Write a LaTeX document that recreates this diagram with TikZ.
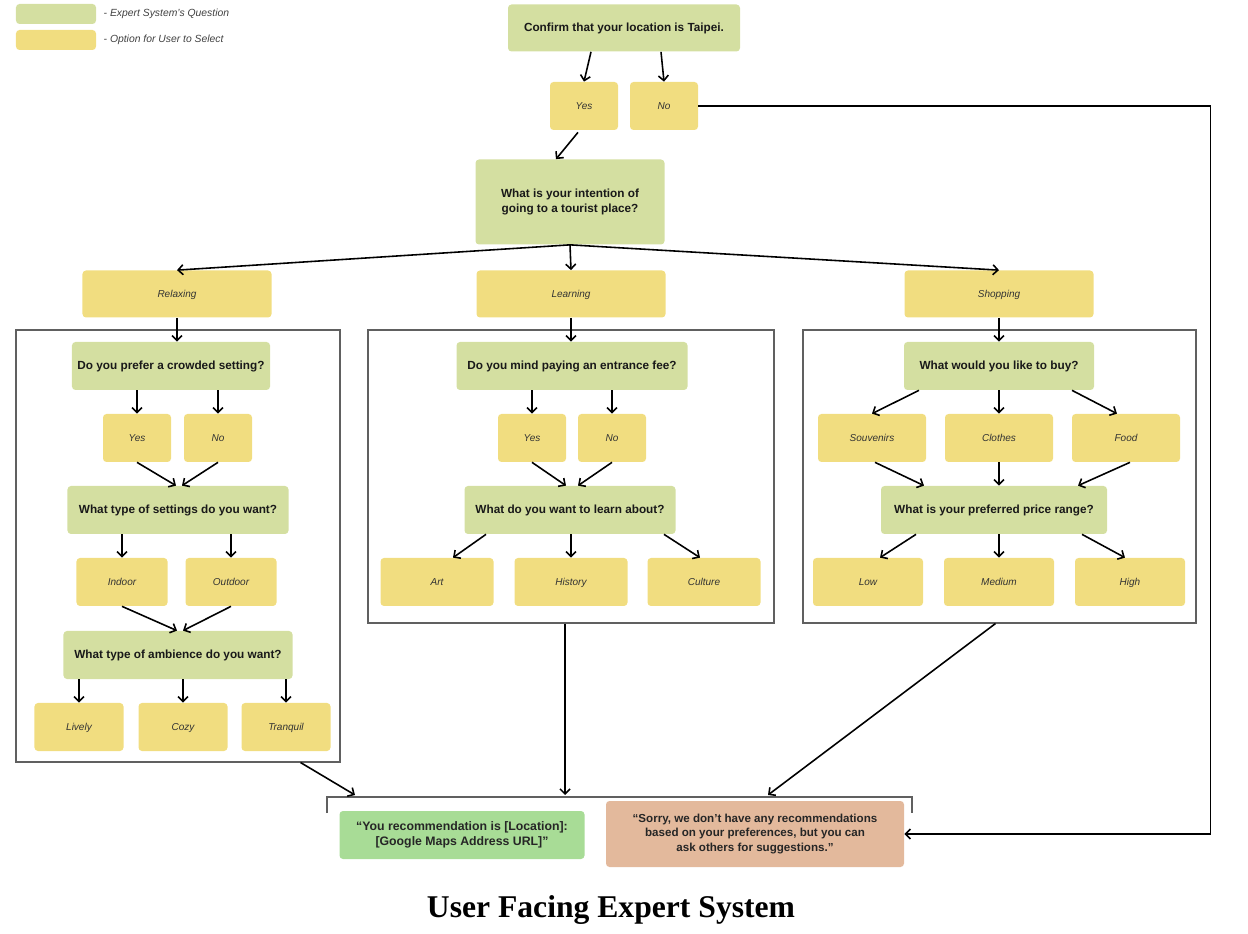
\documentclass[tikz,border=0pt]{standalone}
\usepackage{fontspec}
\setmainfont{Liberation Serif}
\setsansfont{Liberation Sans}
\usepackage{xcolor}
\usepackage{tikz}
\usetikzlibrary{arrows.meta, positioning, calc}

\definecolor{qgreen}{HTML}{D4DFA1}
\definecolor{optyellow}{HTML}{F1DD80}
\definecolor{recgreen}{HTML}{A8DC96}
\definecolor{sorrybrown}{HTML}{E3B99C}
\definecolor{panelgray}{HTML}{606060}

\begin{document}
\begin{tikzpicture}[
  x=0.2mm, y=-0.2mm,
  ques/.style={
    rectangle, rounded corners=0.7mm, fill=qgreen,
    minimum width=#1, minimum height=9.6mm, inner sep=0pt,
    align=center, text=black!90,
    font=\sffamily\bfseries\fontsize{6.7}{8.2}\selectfont
  },
  ques/.default=40mm,
  opt/.style={
    rectangle, rounded corners=0.7mm, fill=optyellow,
    minimum width=#1, minimum height=9.6mm, inner sep=0pt,
    text height=1.2ex, text depth=0.25ex,
    text=black!80, font=\sffamily\itshape\fontsize{5.7}{7}\selectfont
  },
  opt/.default=13.6mm,
  result/.style={
    rectangle, rounded corners=0.7mm, inner sep=0pt, align=center,
    text=black!85, font=\sffamily\bfseries\fontsize{6.6}{8}\selectfont
  },
  panel/.style={rectangle, draw=panelgray, line width=0.6pt, inner sep=0pt},
  legendtxt/.style={
    inner sep=0pt, text=black!75,
    font=\sffamily\itshape\fontsize{5.9}{7}\selectfont
  },
  arr/.style={-{Straight Barb[length=1mm,width=2mm]}, line width=0.9pt}
]
\useasboundingbox (0,0) rectangle (1248,934);

% ── Leyenda ───────────────────────────────────────────────────
\node[ques=16mm, minimum height=4mm] (lgq) at (56,14) {};
\node[legendtxt, right=1.4mm of lgq] (lgqt) {- Expert System’s Question};
\node[opt=16mm, minimum height=4mm] (lgo) at (56,40) {};
\node[legendtxt, right=1.4mm of lgo] (lgot) {- Option for User to Select};

% ── Pregunta inicial ──────────────────────────────────────────
\node[ques=46.4mm, minimum height=9.4mm] (confirm) at (624,28)
  {Confirm that your location is Taipei.};
\node[opt] (yes0) at (584,106) {Yes};
\node[opt] (no0)  at (664,106) {No};
\node[ques=37.8mm, minimum height=17mm] (intent) at (570,202)
  {What is your intention of\\going to a tourist place?};

% ── Intenciones ───────────────────────────────────────────────
\node[opt=37.8mm, minimum height=9.4mm] (relax) at (177,294) {Relaxing};
\node[opt=37.8mm, minimum height=9.4mm] (learn) at (571,294) {Learning};
\node[opt=37.8mm, minimum height=9.4mm] (shop)  at (999,294) {Shopping};

% ── Marcos ────────────────────────────────────────────────────
\node[panel, minimum width=64.8mm, minimum height=86.4mm] (pRelax) at (178,546) {};
\node[panel, minimum width=81.2mm, minimum height=58.6mm] (pLearn) at (571,476.5) {};
\node[panel, minimum width=78.6mm, minimum height=58.6mm] (pShop)  at (999.5,476.5) {};

% ── Relaxing ──────────────────────────────────────────────────
\node[ques=39.6mm] (crowd) at (171,366) {Do you prefer a crowded setting?};
\node[opt] (yes1) at (137,438) {Yes};
\node[opt] (no1)  at (218,438) {No};
\node[ques=44.2mm] (setting) at (178,510) {What type of settings do you want?};
\node[opt=18.2mm] (indoor)  at (122,582) {Indoor};
\node[opt=18.2mm] (outdoor) at (231,582) {Outdoor};
\node[ques=45.8mm] (ambience) at (178,655) {What type of ambience do you want?};
\node[opt=17.8mm] (lively)   at (79,727)  {Lively};
\node[opt=17.8mm] (cozy)     at (183,727) {Cozy};
\node[opt=17.8mm] (tranquil) at (286,727) {Tranquil};

% ── Learning ──────────────────────────────────────────────────
\node[ques=46.2mm] (fee) at (572,366) {Do you mind paying an entrance fee?};
\node[opt] (yes2) at (532,438) {Yes};
\node[opt] (no2)  at (612,438) {No};
\node[ques=42.2mm] (topic) at (570,510) {What do you want to learn about?};
\node[opt=22.6mm] (art)     at (437,582) {Art};
\node[opt=22.6mm] (history) at (571,582) {History};
\node[opt=22.6mm] (culture) at (704,582) {Culture};

% ── Shopping ──────────────────────────────────────────────────
\node[ques=38mm] (buy) at (999,366) {What would you like to buy?};
\node[opt=21.6mm] (souv)    at (872,438)  {Souvenirs};
\node[opt=21.6mm] (clothes) at (999,438)  {Clothes};
\node[opt=21.6mm] (food)    at (1126,438) {Food};
\node[ques=45.2mm] (price) at (994,510) {What is your preferred price range?};
\node[opt=22mm] (low)    at (868,582)  {Low};
\node[opt=22mm] (medium) at (999,582)  {Medium};
\node[opt=22mm] (high)   at (1130,582) {High};

% ── Resultados ────────────────────────────────────────────────
\coordinate (brL) at (327,797);
\coordinate (brR) at (912,797);
\coordinate (inL) at (355,795);
\coordinate (inM) at (565,795);
\coordinate (inR) at (768,795);
\draw[draw=panelgray, line width=0.6pt]
  ($(brL)+(0,16)$) -- (brL) -- (brR) -- ($(brR)+(0,16)$);
\node[result, fill=recgreen, minimum width=49mm, minimum height=9.6mm,
      font=\sffamily\bfseries\fontsize{7}{8.4}\selectfont] (rec)
  at (462,835) {“You recommendation is [Location]:\\{}[Google Maps Address URL]”};
\node[result, fill=sorrybrown, minimum width=59.6mm, minimum height=13.2mm] (sorry)
  at (755,834) {“Sorry, we don’t have any recommendations\\based on your preferences, but you can\\ask others for suggestions.”};

% ── Título ────────────────────────────────────────────────────
\node[font=\bfseries\fontsize{18}{20}\selectfont] (title) at (611,910)
  {User Facing Expert System};

% ── Flechas ───────────────────────────────────────────────────

% Confirmación
\draw[arr] ($(confirm.south)+(-33,0)$) -- (yes0.north);
\draw[arr] ($(confirm.south)+(37,0)$) -- (no0.north);
\draw[arr] ($(yes0.south)+(-6,2)$) -- ($(intent.north)+(-14,0)$);
\draw[arr] (no0.east) -- ++(512,0) |- (sorry.east);

% Intención → opciones
\draw[arr] (intent.south) -- (relax.north);
\draw[arr] (intent.south) -- (learn.north);
\draw[arr] (intent.south) -- (shop.north);
\draw[arr] (relax.south) -- (relax.south |- crowd.north);
\draw[arr] (learn.south) -- (learn.south |- fee.north);
\draw[arr] (shop.south) -- (shop.south |- buy.north);

% Relaxing
\draw[arr] (yes1 |- crowd.south) -- (yes1.north);
\draw[arr] (no1 |- crowd.south) -- (no1.north);
\draw[arr] (yes1.south) -- ($(setting.north)+(-2,0)$);
\draw[arr] (no1.south) -- ($(setting.north)+(4,0)$);
\draw[arr] (indoor |- setting.south) -- (indoor.north);
\draw[arr] (outdoor |- setting.south) -- (outdoor.north);
\draw[arr] (indoor.south) -- ($(ambience.north)+(-1,0)$);
\draw[arr] (outdoor.south) -- ($(ambience.north)+(5,0)$);
\draw[arr] (lively |- ambience.south) -- (lively.north);
\draw[arr] (cozy |- ambience.south) -- (cozy.north);
\draw[arr] (tranquil |- ambience.south) -- (tranquil.north);

% Learning
\draw[arr] (yes2 |- fee.south) -- (yes2.north);
\draw[arr] (no2 |- fee.south) -- (no2.north);
\draw[arr] (yes2.south) -- ($(topic.north)+(-4,0)$);
\draw[arr] (no2.south) -- ($(topic.north)+(8,0)$);
\draw[arr] ($(topic.south)+(-84,0)$) -- ($(art.north)+(16,0)$);
\draw[arr] (history |- topic.south) -- (history.north);
\draw[arr] ($(topic.south)+(94,0)$) -- ($(culture.north)+(-4,0)$);

% Shopping
\draw[arr] ($(buy.south)+(-80,0)$) -- (souv.north);
\draw[arr] (clothes |- buy.south) -- (clothes.north);
\draw[arr] ($(buy.south)+(73,0)$) -- ($(food.north)+(-9,0)$);
\draw[arr] ($(souv.south)+(3,0)$) -- ($(price.north)+(-70,0)$);
\draw[arr] (clothes.south) -- (clothes |- price.north);
\draw[arr] ($(food.south)+(4,0)$) -- ($(price.north)+(84,0)$);
\draw[arr] ($(price.south)+(-78,0)$) -- ($(low.north)+(12,0)$);
\draw[arr] (medium |- price.south) -- (medium.north);
\draw[arr] ($(price.south)+(88,0)$) -- ($(high.north)+(-5,0)$);

% Marcos → resultados
\draw[arr] ($(pRelax.south east)+(-40,0)$) -- (inL);
\draw[arr] (pLearn.south -| inM) -- (inM);
\draw[arr] ($(pShop.south)+(-4,0)$) -- (inR);

\end{tikzpicture}
\end{document}
